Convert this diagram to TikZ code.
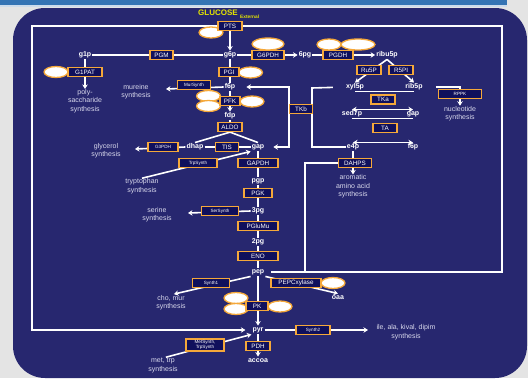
\documentclass[tikz,border=0pt]{standalone}
\usepackage{fontspec}
\setmainfont{Liberation Sans}
\usepackage{tikz}
\usetikzlibrary{positioning, shapes, arrows.meta}
\pgfdeclarelayer{slide}
\pgfdeclarelayer{background}
\pgfsetlayers{slide,background,main}

\begin{document}
\begin{tikzpicture}[x=1pt, y=-1pt,
    met/.style={text=white, font=\fontsize{7}{8}\selectfont\bfseries, inner sep=1pt, text height=5pt, text depth=1.5pt},
    desc/.style={text=cDESC, align=center, font=\fontsize{7}{8.6}\selectfont, inner sep=0pt},
    enz/.style={draw=cORANGE, line width=1.3pt, fill=cBOX, text=white, inner sep=0pt, minimum height=9pt, font=\fontsize{6.3}{7}\selectfont},
    senz/.style={enz, font=\fontsize{4.6}{5.2}\selectfont},
    reg/.style={ellipse, draw=cORANGE, line width=1.3pt, fill=white, minimum width=24pt, minimum height=11pt, inner sep=0pt},
    flow/.style={draw=white, line width=1.6pt},
    arr/.style={flow, -{Stealth[length=4.5pt, width=5.5pt]}},
    rev/.style={flow, {Stealth[length=4.5pt, width=5.5pt]}-{Stealth[length=4.5pt, width=5.5pt]}}]

\definecolor{cSLIDE}{HTML}{27276F}
\definecolor{cBOX}{HTML}{10105C}
\definecolor{cORANGE}{HTML}{F5A83A}
\definecolor{cDESC}{HTML}{D8D8EC}
\definecolor{cGLC}{HTML}{E6E600}
\definecolor{cGRAY}{HTML}{E4E4E4}
\definecolor{cBAR}{HTML}{3474B4}

\pgfmathsetmacro{\xa}{230}
\pgfmathsetmacro{\xb}{258}

\useasboundingbox (0,0) rectangle (528,378);

% FONDO
\begin{pgfonlayer}{slide}
\fill[cGRAY] (0,0) rectangle (528,378);
\fill[cBAR] (0,0) rectangle (507,5);
\fill[cBAR!25] (0,5) rectangle (507,6.5);
\fill[cSLIDE, rounded corners=32pt] (13,8) rectangle (527,378);
\end{pgfonlayer}

% Metabolitos
\node[met, text=cGLC, font=\fontsize{8}{9}\selectfont\bfseries] (glc) at (218,14) {GLUCOSE};
\node[met, text=cGLC, font=\fontsize{4.8}{5}\selectfont\bfseries, anchor=west, inner sep=0pt] (ext) at (240,16.5) {External};
\node[met] (g1p) at (85,55) {g1p};
\node[met] (g6p) at (\xa,55) {g6p};
\node[met] (pg6) at (305,55) {6pg};
\node[met] (ribu5p) at (387,55) {ribu5p};
\node[met] (f6p) at (\xa,87) {f6p};
\node[met] (fdp) at (\xa,116) {fdp};
\node[met] (xyl5p) at (355,87) {xyl5p};
\node[met] (rib5p) at (414,87) {rib5p};
\node[met] (sed7p) at (352,114) {sed7p};
\node[met] (gapR) at (413,114) {gap};
\node[met] (e4p) at (353,147) {e4p};
\node[met] (f6pR) at (413,147) {f6p};
\node[met] (dhap) at (195,147) {dhap};
\node[met] (gap) at (\xb,147) {gap};
\node[met] (pgp) at (\xb,181) {pgp};
\node[met] (pg3) at (\xb,211) {3pg};
\node[met] (pg2) at (\xb,242) {2pg};
\node[met] (pep) at (\xb,272) {pep};
\node[met] (pyr) at (\xb,330) {pyr};
\node[met] (accoa) at (\xb,361) {accoa};
\node[met] (oaa) at (338,298) {oaa};

% Sintesis
\node[desc] (poly) at (85,101) {poly-\\saccharide\\synthesis};
\node[desc] (mur) at (136,91.5) {mureine\\synthesis};
\node[desc] (glyc) at (106,150.5) {glycerol\\synthesis};
\node[desc] (trp) at (142,186) {tryptophan\\synthesis};
\node[desc] (ser) at (157,214.5) {serine\\synthesis};
\node[desc] (cho) at (171,302.5) {cho, mur\\synthesis};
\node[desc] (mettrp) at (163,365.5) {met, trp\\synthesis};
\node[desc] (ile) at (406,332) {ile, ala, kival, dipim\\synthesis};
\node[desc] (arom) at (353,186.5) {aromatic\\amino acid\\synthesis};
\node[desc] (nucl) at (460,113.5) {nucleotide\\synthesis};

% Puntos de paso
\coordinate (fBR) at (502,272);
\coordinate (fTR) at (502,26);
\coordinate (fTL) at (32,26);
\coordinate (fBL) at (32,330);
\coordinate (pepA) at (305,272);
\coordinate (tkL1) at (289,87);
\coordinate (tkL2) at (289,147);
\coordinate (tkR1) at (312,88);
\coordinate (tkR2) at (312,147);
\coordinate (murEnd) at (166,89);
\coordinate (glycEnd) at (135,149);
\coordinate (serEnd) at (188,213);
\coordinate (ileEnd) at (368,330);

% Reguladores
\node[reg] (ptsR) at (211,32.5) {};
\node[reg, minimum width=32pt, minimum height=12pt] (g6pdhR) at (268,44) {};
\node[reg] (pgdhR1) at (329,44.5) {};
\node[reg, minimum width=34pt] (pgdhR2) at (358,44.5) {};
\node[reg] (g1patR) at (56,72) {};
\node[reg] (pgiR) at (250.5,72.5) {};
\node[reg] (pfkR1) at (208.5,96) {};
\node[reg] (pfkR2) at (208.5,106) {};
\node[reg] (pfkR3) at (252,101.5) {};
\node[reg] (pepcR) at (333,283) {};
\node[reg] (pkR1) at (236,298) {};
\node[reg] (pkR2) at (236,309) {};
\node[reg] (pkR3) at (280,306.5) {};

% Enzimas
\node[enz, minimum width=24pt] (pts) at (\xa,26) {PTS};
\node[enz, minimum width=23pt] (pgm) at (161.5,55) {PGM};
\node[enz, minimum width=32pt] (g6pdh) at (268,55) {G6PDH};
\node[enz, minimum width=30pt] (pgdh) at (338,55) {PGDH};
\node[enz, minimum width=34pt] (g1pat) at (85,72) {G1PAT};
\node[enz, minimum width=20pt] (pgi) at (229,72) {PGI};
\node[senz, minimum width=33pt] (mursyn) at (194,85) {MurSynth};
\node[enz, minimum width=20pt] (pfk) at (\xa,101) {PFK};
\node[enz, minimum width=24pt] (aldo) at (\xa,127) {ALDO};
\node[enz, minimum width=23pt] (tis) at (227,147) {TIS};
\node[senz, minimum width=30pt] (g3pdh) at (163,147) {G3PDH};
\node[senz, minimum width=38pt] (trpsyn) at (198,163) {TrpSynth};
\node[enz, minimum width=40pt] (gapdh) at (\xb,163) {GAPDH};
\node[enz, minimum width=28pt] (pgk) at (\xb,193) {PGK};
\node[senz, minimum width=37pt] (sersyn) at (220,211) {SerSynth};
\node[enz, minimum width=40pt] (pglumu) at (\xb,226) {PGluMu};
\node[enz, minimum width=40pt] (eno) at (\xb,256) {ENO};
\node[senz, minimum width=37pt] (syn1) at (211,283) {Synth1};
\node[enz, minimum width=50pt] (pepc) at (296,283) {PEPCxylase};
\node[enz, minimum width=22pt] (pk) at (257,306) {PK};
\node[senz, minimum width=38pt, minimum height=12pt, align=center] (metsyn) at (205,345) {MetSynth,\\TrpSynth};
\node[enz, minimum width=24pt] (pdh) at (\xb,346) {PDH};
\node[senz, minimum width=34pt] (syn2) at (313,330) {Synth2};
\node[enz, minimum width=24pt] (ru5p) at (369,70) {Ru5P};
\node[enz, minimum width=24pt] (r5pi) at (401,70) {R5PI};
\node[enz, minimum width=24pt] (tka) at (383,99.5) {TKa};
\node[enz, minimum width=24pt] (ta) at (385,128) {TA};
\node[enz, minimum width=23pt] (tkb) at (301,109) {TKb};
\node[enz, minimum width=33pt] (dahps) at (355,163) {DAHPS};
\node[senz, minimum width=43pt] (rppk) at (460,94) {RPPK};

% FLECHAS
\begin{pgfonlayer}{background}
\draw[arr, shorten <=6pt, shorten >=6pt] (pep.east) -- (fBR) -- (fTR) -- (fTL) -- (fBL) -- (pyr.west);
\draw[arr] (pts) -- (g6p);
\draw[flow] (g1p) -- (g6p);
\draw[arr] (g6p) -- (pg6);
\draw[arr] (pg6) -- (ribu5p);
\draw[flow] (g6p) -- (f6p);
\draw[arr] (f6p) -- (fdp);
\draw[flow] (fdp) -- (aldo);
\draw[flow] (aldo.south) -- (dhap.north);
\draw[flow] (aldo.south) -- (gap.north);
\draw[flow] (dhap) -- (gap);
\draw[flow] (gap) -- (pgp);
\draw[flow] (pgp) -- (pg3);
\draw[flow] (pg3) -- (pg2);
\draw[flow] (pg2) -- (pep);
\draw[arr] (pep) -- (pyr);
\draw[arr] (pyr) -- (accoa);
\draw[arr] (g1p) -- (poly);
\draw[arr] (f6p.west) -- (murEnd);
\draw[arr] (dhap.west) -- (glycEnd);
\draw[arr] (trp.north) -- (gap.south west);
\draw[arr] (pg3.west) -- (serEnd);
\draw[arr, shorten >=3pt] (pep.south west) -- (cho.north);
\draw[arr] (pep.south east) -- (oaa.north);
\draw[arr, shorten <=3pt] (mettrp.north) -- (pyr.south west);
\draw[arr] (pyr.east) -- (ileEnd);
\draw[arr] (ribu5p.south) -- (xyl5p.north);
\draw[arr] (ribu5p.south) -- (rib5p.north);
\draw[flow] (xyl5p.south) -- (rib5p.south);
\draw[rev] (sed7p.north) -- (gapR.north);
\draw[flow] (sed7p.south) -- (gapR.south);
\draw[rev] (e4p.north) -- (f6pR.north);
\draw[rev, shorten <=10pt, shorten >=8pt] (f6p.east) -- (tkL1) -- (tkL2) -- (gap.east);
\draw[flow, shorten <=12pt] (xyl5p.west) -- (tkR1) -- (tkR2) -- (e4p.west);
\draw[arr, shorten <=12pt] (rib5p.east) -| (nucl.north);
\draw[arr] (e4p.south) -- (arom.north);
\draw[flow] (pepA) |- (dahps.west);
\end{pgfonlayer}

\end{tikzpicture}
\end{document}
